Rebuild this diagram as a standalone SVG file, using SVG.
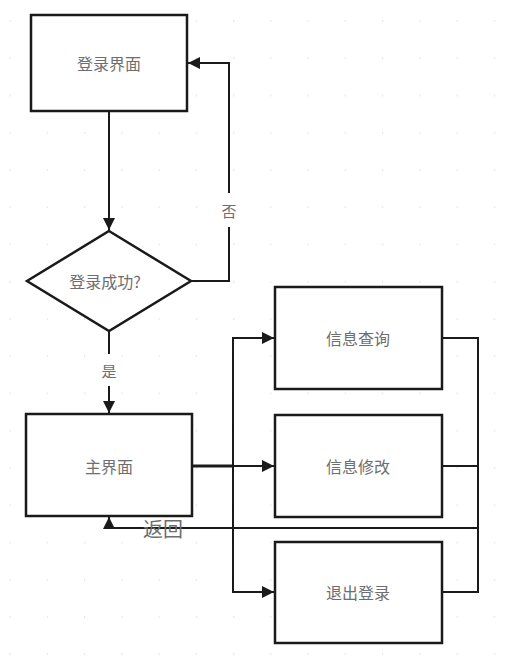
<svg xmlns="http://www.w3.org/2000/svg" width="517" height="660" viewBox="0 0 517 660">
<defs>
<pattern id="grid" patternUnits="userSpaceOnUse" x="9.5" y="20" width="37.25" height="37.25">
<rect x="0" y="0" width="1.2" height="2" fill="#e6e6e6"/>
</pattern>
<marker id="arr" viewBox="0 0 12 12" refX="12" refY="6" markerWidth="12" markerHeight="12" markerUnits="userSpaceOnUse" orient="auto">
<path d="M0,0 L12,6 L0,12 Z" fill="#1a1a1a"/>
</marker>
<style>
.node{fill:#fff;stroke:#1a1a1a;stroke-width:2.5}
.lbl{font-family:"Noto Sans CJK SC","Liberation Sans",sans-serif;font-size:16px;fill:#6e6e6e;text-anchor:middle;dominant-baseline:central}
.edge{fill:none;stroke:#1a1a1a;stroke-width:2}
.elbl{font-family:"Noto Sans CJK SC","Liberation Sans",sans-serif;font-size:15px;fill:#6e6e6e;text-anchor:middle;dominant-baseline:central}
</style>
</defs>
<rect width="517" height="660" fill="#fff"/>
<rect width="517" height="660" fill="url(#grid)"/>
<g id="connectors">
<path class="edge" d="M109,111 V230" marker-end="url(#arr)"/>
<path class="edge" d="M191,281 H229 V63 H188" marker-end="url(#arr)"/>
<rect x="220" y="193" width="18" height="34" fill="#fff"/>
<text class="elbl" x="229" y="210">否</text>
<path class="edge" d="M109,331 V413" marker-end="url(#arr)"/>
<rect x="100" y="354" width="18" height="32" fill="#fff"/>
<text class="elbl" x="109" y="370">是</text>
<path class="edge" d="M192,466 H233" style="stroke-width:3"/>
<path class="edge" d="M233,466 H274" marker-end="url(#arr)"/>
<path class="edge" d="M274,338 H233 V592 H274" marker-end="url(#arr)"/>
<path class="edge" d="M233,338 H274" marker-end="url(#arr)"/>
<path class="edge" d="M442,338 H478 V592 H442"/>
<path class="edge" d="M442,466 H478"/>
<path class="edge" d="M478,528 H109 V517" marker-end="url(#arr)"/>
<text x="163" y="528" style="font-family:'Noto Sans CJK SC','Liberation Sans',sans-serif;font-size:20px;fill:#6e6e6e;text-anchor:middle;dominant-baseline:central">返回</text>
</g>
<g id="login">
<rect class="node" x="31" y="15" width="156" height="96"/>
<text class="lbl" x="109" y="63">登录界面</text>
</g>
<g id="check">
<polygon class="node" points="109,231 191,281 109,331 27,281"/>
<text class="lbl" x="105" y="281">登录成功?</text>
</g>
<g id="main">
<rect class="node" x="26" y="414" width="166" height="102"/>
<text class="lbl" x="109" y="466">主界面</text>
</g>
<g id="query">
<rect class="node" x="275" y="287" width="167" height="102"/>
<text class="lbl" x="358" y="338">信息查询</text>
</g>
<g id="modify">
<rect class="node" x="275" y="415" width="167" height="102"/>
<text class="lbl" x="358" y="466">信息修改</text>
</g>
<g id="logout">
<rect class="node" x="275" y="542" width="167" height="101"/>
<text class="lbl" x="358" y="592">退出登录</text>
</g>
</svg>
